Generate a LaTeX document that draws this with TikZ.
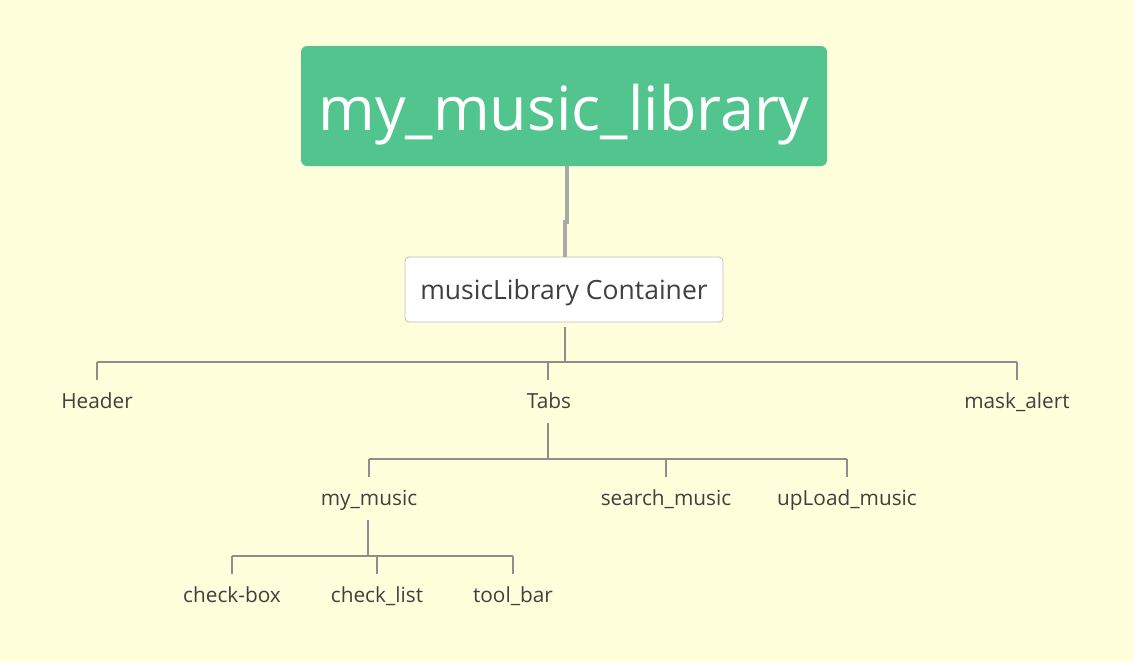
\documentclass[tikz,border=0pt]{standalone}
\usepackage{fontspec}
\setmainfont{Open Sans}
\definecolor{bg}{HTML}{FFFFDC}
\definecolor{rootgreen}{HTML}{52C48D}
\definecolor{txt}{HTML}{404040}
\definecolor{conncol}{HTML}{8E8E8E}
\definecolor{thickcol}{HTML}{A9A9A9}
\definecolor{boxborder}{HTML}{BDBDBD}
\begin{document}
\begin{tikzpicture}[x=1pt,y=-1pt,
  rootbox/.style={fill=rootgreen, rounded corners=6pt, minimum width=526pt, minimum height=120pt, text=white, font=\fontsize{61}{64}\selectfont, text height=48pt, text depth=0pt, inner sep=0pt},
  contbox/.style={fill=white, draw=boxborder, line width=0.8pt, rounded corners=4pt, minimum width=318pt, minimum height=65pt, text=txt, font=\fontsize{26.5}{30}\selectfont, text height=20pt, text depth=0pt, inner sep=0pt},
  leaf/.style={text=txt, font=\fontsize{20.8}{24}\selectfont, text height=18pt, text depth=5pt, inner xsep=0pt, inner ysep=10pt, anchor=base},
  conn/.style={draw=conncol, line width=1.5pt},
  thick conn/.style={draw=thickcol, line width=4.5pt}
]
\useasboundingbox[fill=bg] (0,0) rectangle (1134,662);

\node[rootbox] (root) at (564,106) {my\_music\_library};
\node[contbox] (cont) at (564,289.5) {musicLibrary Container};

\node[leaf] (hdr) at (97,408) {Header};
\node[leaf] (tabs) at (549,408) {Tabs};
\node[leaf] (mask) at (1017,408) {mask\_alert};

\node[leaf] (mym) at (369,505) {my\_music};
\node[leaf] (srch) at (666,505) {search\_music};
\node[leaf] (upl) at (847,505) {upLoad\_music};

\node[leaf] (cbox) at (232,602) {check-box};
\node[leaf] (clist) at (377,602) {check\_list};
\node[leaf] (tbar) at (513,602) {tool\_bar};

% root to container
\coordinate (stepA) at (567,224);
\coordinate (stepB) at (565,220);
\draw[thick conn] ([xshift=3pt]root.south) -- ([xshift=3pt]root.south |- stepA);
\draw[thick conn] (stepB) -- ([xshift=1pt]cont.north);

% container to level 1
\coordinate (bus1) at (565,362);
\draw[conn] ([yshift=-5pt,xshift=1pt]cont.south) -- (bus1);
\draw[conn] (hdr.north |- bus1) -- (mask.north |- bus1);
\draw[conn] (hdr.north |- bus1) -- (hdr.north);
\draw[conn] ([xshift=-1pt]tabs.north |- bus1) -- ([xshift=-1pt]tabs.north);
\draw[conn] (mask.north |- bus1) -- (mask.north);

% tabs to level 2
\coordinate (bus2) at (548,459);
\draw[conn] ([xshift=-1pt]tabs.south) -- ([xshift=-1pt]tabs.south |- bus2);
\draw[conn] (mym.north |- bus2) -- (upl.north |- bus2);
\draw[conn] (mym.north |- bus2) -- (mym.north);
\draw[conn] (srch.north |- bus2) -- (srch.north);
\draw[conn] (upl.north |- bus2) -- (upl.north);

% my_music to level 3
\coordinate (bus3) at (368,556);
\draw[conn] ([xshift=-1pt]mym.south) -- ([xshift=-1pt]mym.south |- bus3);
\draw[conn] (cbox.north |- bus3) -- (tbar.north |- bus3);
\draw[conn] (cbox.north |- bus3) -- (cbox.north);
\draw[conn] (clist.north |- bus3) -- (clist.north);
\draw[conn] (tbar.north |- bus3) -- (tbar.north);
\end{tikzpicture}
\end{document}
